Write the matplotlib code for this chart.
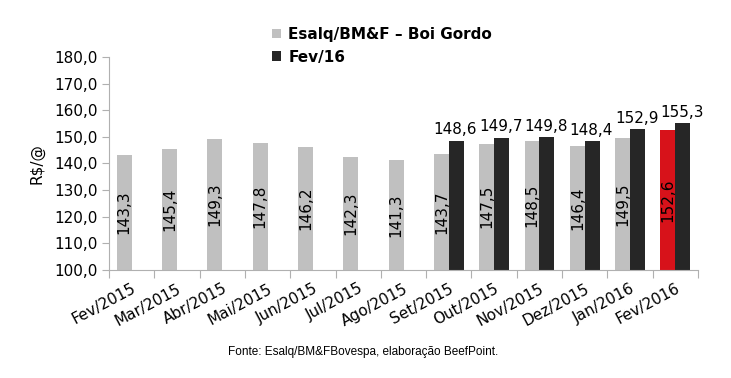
import numpy as np
import matplotlib.pyplot as plt

meses = ['Fev/2015', 'Mar/2015', 'Abr/2015', 'Mai/2015', 'Jun/2015', 'Jul/2015',
         'Ago/2015', 'Set/2015', 'Out/2015', 'Nov/2015', 'Dez/2015', 'Jan/2016', 'Fev/2016']
boi_gordo = [143.3, 145.4, 149.3, 147.8, 146.2, 142.3, 141.3, 143.7, 147.5, 148.5, 146.4, 149.5, 152.6]
fev16 = [np.nan] * 7 + [148.6, 149.7, 149.8, 148.4, 152.9, 155.3]

plt.rcParams['font.family'] = ['DejaVu Sans']
fig = plt.figure(figsize=(7.31, 3.78), dpi=100)
ax = fig.add_axes([0.149, 0.286, 0.806, 0.563])

x = np.arange(len(meses))
w = 0.33
cores = ['#c0c0c0'] * (len(meses) - 1) + ['#d7121a']
b1 = ax.bar(x - w / 2, [v - 100 for v in boi_gordo], w, bottom=100, color=cores,
            label='Esalq/BM&F – Boi Gordo')
ok = ~np.isnan(fev16)
b2 = ax.bar(x[ok] + w / 2, np.array(fev16)[ok] - 100, w, bottom=100, color='#262626',
            label='Fev/16')

fs = 11
for xi, v in zip(x, boi_gordo):
    ax.text(xi - w / 2, (100 + v) / 2, f'{v:.1f}'.replace('.', ','), rotation=90,
            ha='center', va='center', fontsize=fs)
for xi, v in zip(x[ok], np.array(fev16)[ok]):
    ax.text(xi + w / 2 - 0.02, v + 1.2, f'{v:.1f}'.replace('.', ','),
            ha='center', va='bottom', fontsize=fs)

ax.set_ylim(100, 180)
ax.set_xlim(-0.5, len(meses) - 0.5)
ax.set_yticks(np.arange(100, 181, 10))
ax.set_yticklabels([f'{t:.1f}'.replace('.', ',') for t in np.arange(100, 181, 10)], fontsize=fs)
ax.set_xticks(np.arange(-0.5, len(meses), 1))
ax.set_xticklabels([])
ax.set_xticks(x, minor=True)
ax.set_xticklabels(meses, minor=True, rotation=28, ha='right', rotation_mode='anchor', fontsize=fs)
ax.tick_params(axis='x', which='minor', length=0, pad=8)
ax.tick_params(axis='x', which='major', length=6, color='#b0b0b0', direction='out')
ax.tick_params(axis='y', length=5, color='#b0b0b0', pad=3)
for s in ['top', 'right']:
    ax.spines[s].set_visible(False)
for s in ['left', 'bottom']:
    ax.spines[s].set_color('#b0b0b0')
ax.set_ylabel('R$/@', fontsize=fs, labelpad=7)

fig.legend(handles=[b1[0], b2[0]], labels=['Esalq/BM&F – Boi Gordo', 'Fev/16'],
           loc='upper left', bbox_to_anchor=(0.364, 0.945), frameon=False,
           prop={'weight': 'bold', 'size': fs}, handlelength=0.6, handleheight=0.6,
           handletextpad=0.45, labelspacing=0.5, borderaxespad=0)

fig.text(0.497, 0.068, 'Fonte: Esalq/BM&FBovespa, elaboração BeefPoint.',
         ha='center', va='center', fontsize=8.5, family='Liberation Sans')

fig.savefig('out.png', dpi=100)
